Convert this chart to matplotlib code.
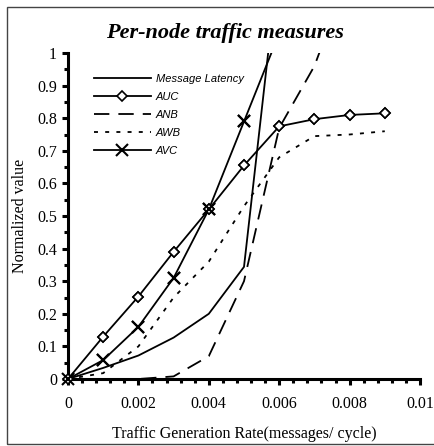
import matplotlib
matplotlib.use("Agg")
import matplotlib.pyplot as plt
from matplotlib.patches import Rectangle
from matplotlib.ticker import MultipleLocator, FixedLocator
import numpy as np

rate = [0, 0.001, 0.002, 0.003, 0.004, 0.005, 0.006, 0.007, 0.008, 0.009]
msg_latency = [0, 0.034, 0.072, 0.127, 0.20, 0.344, 1.30]
auc = [0, 0.13, 0.253, 0.39, 0.52, 0.655, 0.775, 0.797, 0.81, 0.815]
anb = [0, 0, 0, 0.008, 0.07, 0.30, 0.77, 0.96, 1.25]
awb = [0, 0.018, 0.10, 0.25, 0.36, 0.53, 0.68, 0.745, 0.75, 0.76]
avc = [0, 0.058, 0.16, 0.31, 0.52, 0.79, 1.06]

x_ticks = [0, 0.002, 0.004, 0.006, 0.008, 0.01]
x_tick_labels = ["0", "0.002", "0.004", "0.006", "0.008", "0.01"]
y_ticks = [0, 0.1, 0.2, 0.3, 0.4, 0.5, 0.6, 0.7, 0.8, 0.9, 1.0]
y_tick_labels = ["0", "0.1", "0.2", "0.3", "0.4", "0.5", "0.6", "0.7", "0.8", "0.9", "1"]

W, H = 434, 446
fig = plt.figure(figsize=(W / 100, H / 100), dpi=100)
ax = fig.add_axes([68 / W, 1 - 379 / H, (420 - 68) / W, (379 - 53) / H])

serif = "Liberation Serif"
sans = "Liberation Sans"
lw = 1.3

l1, = ax.plot(rate[:len(msg_latency)], msg_latency, color="black", lw=lw, label="Message Latency")
l2, = ax.plot(rate[:len(auc)], auc, color="black", lw=lw, marker="D", markersize=5,
              markerfacecolor="white", markeredgecolor="black", markeredgewidth=1.2, label="AUC")
l3, = ax.plot(rate[:len(anb)], anb, color="black", lw=lw, dashes=(8.5, 5), label="ANB")
l4, = ax.plot(rate[:len(awb)], awb, color="black", lw=lw, dashes=(2.2, 4), label="AWB")
l5, = ax.plot(rate[:len(avc)], avc, color="black", lw=lw, marker="x", markersize=9,
              markeredgewidth=1.5, label="AVC")

# unclipped markers at in-range points (so origin markers show fully)
r = np.array(rate)
a = np.array(auc)
ax.plot(r[:len(a)], a, ls="none", marker="D", markersize=5, markerfacecolor="white",
        markeredgecolor="black", markeredgewidth=1.2, clip_on=False, zorder=4)
v = np.array(avc)
m = v <= 1
ax.plot(r[:len(v)][m], v[m], ls="none", marker="x", markersize=9, markeredgewidth=1.5,
        color="black", clip_on=False, zorder=4)

ax.set_xlim(0, 0.01)
ax.set_ylim(0, 1)
for s in ["top", "right"]:
    ax.spines[s].set_visible(False)
for s in ["left", "bottom"]:
    ax.spines[s].set_linewidth(2.2)

ax.xaxis.set_major_locator(FixedLocator(x_ticks))
ax.set_xticklabels(x_tick_labels, fontfamily=serif, fontsize=11.5)
ax.xaxis.set_minor_locator(MultipleLocator(0.0004))
ax.yaxis.set_major_locator(FixedLocator(y_ticks))
ax.set_yticklabels(y_tick_labels, fontfamily=serif, fontsize=11.5)
ax.yaxis.set_minor_locator(MultipleLocator(0.05))
ax.tick_params(axis="both", which="major", direction="out", length=4, width=2.2, pad=8)
ax.tick_params(axis="both", which="minor", direction="out", length=3, width=2.2)
ax.tick_params(axis="y", which="major", pad=4)

ax.set_xlabel("Traffic Generation Rate(messages/ cycle)", fontfamily=serif, fontsize=11.5, labelpad=10)
ax.set_ylabel("Normalized value", fontfamily=serif, fontsize=11.5)
ax.yaxis.label.set_va("center")
ax.yaxis.set_label_coords((20 - 68) / 352, 0.5)

fig.text(225 / W, 1 - 33 / H, "Per-node traffic measures", fontfamily=serif, fontsize=16,
         fontweight="bold", fontstyle="italic", ha="center", va="center")

leg = ax.legend(handles=[l1, l2, l3, l4, l5], loc="upper left",
                bbox_to_anchor=(88 / W, 1 - 68 / H), bbox_transform=fig.transFigure,
                frameon=False, prop={"family": sans, "style": "italic", "size": 8},
                handlelength=5.2, handletextpad=0.4, labelspacing=0.72, borderpad=0)

fig.add_artist(Rectangle((7 / W, 2 / H), 1 - 7 / W + 0.01, 1 - 9 / H, transform=fig.transFigure,
                         fill=False, edgecolor="#444444", lw=1.0))

fig.savefig("out.png", dpi=100)
